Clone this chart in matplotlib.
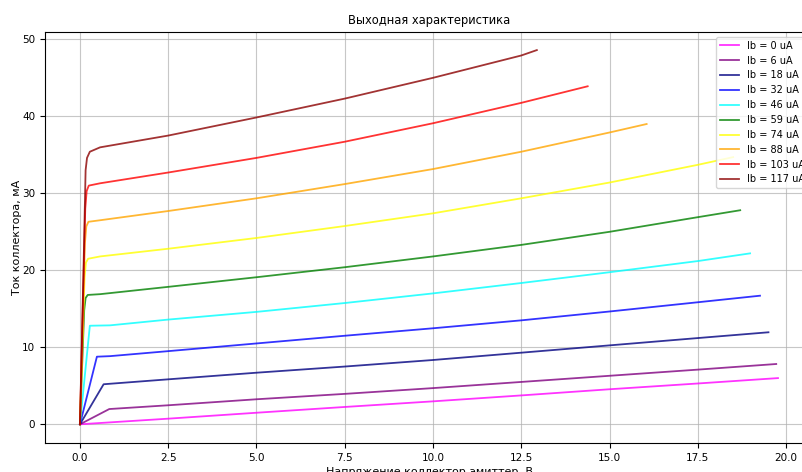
import matplotlib
matplotlib.use("Agg")
import matplotlib.pyplot as plt

ib_labels = ["Ib = 0 uA", "Ib = 6 uA", "Ib = 18 uA", "Ib = 32 uA", "Ib = 46 uA",
             "Ib = 59 uA", "Ib = 74 uA", "Ib = 88 uA", "Ib = 103 uA", "Ib = 117 uA"]
colors = ["magenta", "purple", "navy", "blue", "cyan",
          "green", "yellow", "orange", "red", "darkred"]

v_0 = [0, 2.5, 5, 7.5, 10, 12.5, 15, 17.5, 19.77]
i_0 = [0, 0.73, 1.5, 2.25, 2.98, 3.75, 4.55, 5.3, 6.0]

v_6 = [0, 0.83, 2.5, 5, 7.5, 10, 12.5, 15, 17.5, 19.72]
i_6 = [0, 1.98, 2.47, 3.25, 3.95, 4.7, 5.5, 6.3, 7.1, 7.83]

v_18 = [0, 0.67, 2.5, 5, 7.5, 10, 12.5, 15, 17.5, 19.5]
i_18 = [0, 5.2, 5.84, 6.7, 7.5, 8.35, 9.3, 10.25, 11.2, 11.95]

v_32 = [0, 0.48, 0.85, 2.5, 5, 7.5, 10, 12.5, 15, 17.5, 19.26]
i_32 = [0, 8.78, 8.85, 9.5, 10.5, 11.5, 12.47, 13.5, 14.65, 15.85, 16.7]

v_46 = [0, 0.28, 0.85, 2.5, 5, 7.5, 10, 12.5, 15, 17.5, 18.98]
i_46 = [0, 12.8, 12.85, 13.6, 14.6, 15.75, 17.0, 18.35, 19.75, 21.2, 22.2]

v_59 = [0, 0.12, 0.16, 0.22, 0.57, 2.5, 5, 7.5, 10, 12.5, 15, 17.5, 18.7]
i_59 = [0, 14.8, 16.4, 16.8, 16.9, 17.85, 19.1, 20.4, 21.8, 23.3, 25.0, 26.9, 27.8]

v_74 = [0, 0.13, 0.17, 0.23, 0.57, 2.5, 5, 7.5, 10, 12.5, 15, 17.5, 18.5]
i_74 = [0, 19.0, 21.0, 21.5, 21.8, 22.8, 24.2, 25.75, 27.4, 29.35, 31.4, 33.7, 34.7]

v_88 = [0, 0.14, 0.18, 0.24, 0.57, 2.5, 5, 7.5, 10, 12.5, 15, 16.05]
i_88 = [0, 23.5, 25.7, 26.3, 26.5, 27.7, 29.35, 31.2, 33.15, 35.4, 37.9, 39.0]

v_103 = [0, 0.15, 0.19, 0.25, 0.57, 2.5, 5, 7.5, 10, 12.5, 14.38]
i_103 = [0, 28.0, 30.3, 31.0, 31.3, 32.7, 34.6, 36.7, 39.1, 41.75, 43.9]

v_117 = [0, 0.1, 0.16, 0.2, 0.28, 0.57, 2.5, 5, 7.5, 10, 12.5, 12.94]
i_117 = [0, 20.0, 33.0, 34.6, 35.4, 35.97, 37.5, 39.85, 42.3, 45.0, 47.9, 48.6]

voltages = [v_0, v_6, v_18, v_32, v_46, v_59, v_74, v_88, v_103, v_117]
currents = [i_0, i_6, i_18, i_32, i_46, i_59, i_74, i_88, i_103, i_117]

plt.rcParams["font.family"] = ["DejaVu Sans"]
plt.rcParams["font.size"] = 7.5

fig = plt.figure(figsize=(8.03, 4.72), dpi=100)
ax = fig.add_axes([45 / 803, 29 / 472, 769 / 803, 411 / 472])

for v, i, c, lab in zip(voltages, currents, colors, ib_labels):
    ax.plot(v, i, color=c, alpha=0.8, linewidth=1.3, label=lab)

ax.set_xlim(-0.99, 20.79)
ax.set_ylim(-2.43, 50.95)
ax.set_title("Выходная характеристика", fontsize=8.3)
ax.set_xlabel("Напряжение коллектор-эмиттер, В", fontsize=8, labelpad=3)
ax.set_ylabel("Ток коллектора, мА", fontsize=8, labelpad=0)
ax.tick_params(labelsize=7.5)
ax.grid(True, alpha=0.7)
ax.legend(loc="upper right", fontsize=7)

fig.savefig("out.png", dpi=100)
